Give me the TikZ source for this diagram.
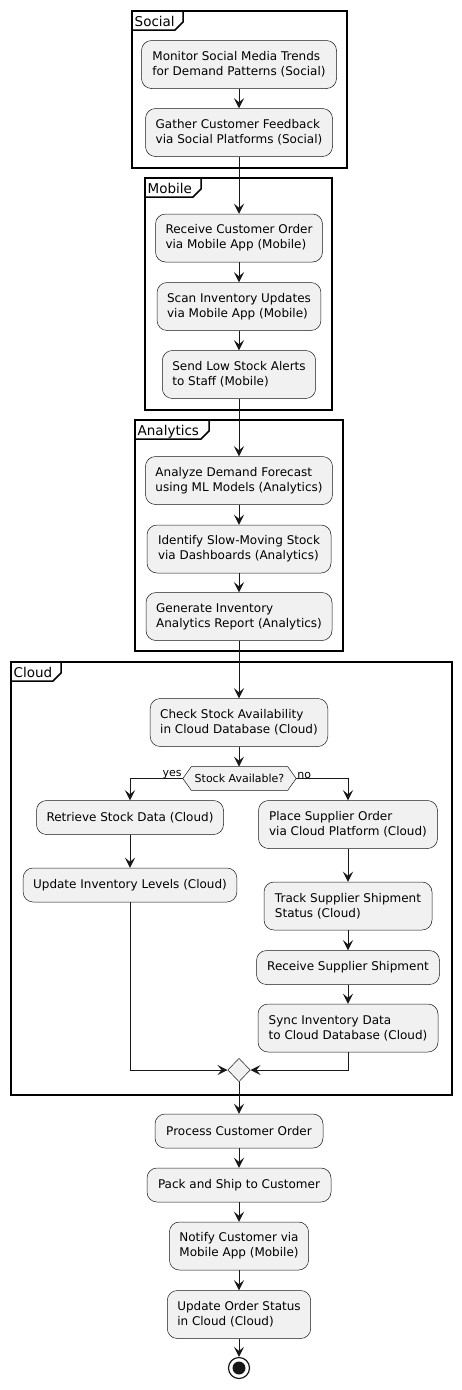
\documentclass[tikz,border=0pt]{standalone}
\usepackage{fontspec}
\setmainfont{DejaVu Sans}
\usetikzlibrary{arrows.meta,shapes.geometric}
\definecolor{actfill}{HTML}{F1F1F1}
\definecolor{actline}{HTML}{181818}
\tikzset{
  act/.style={draw=actline, fill=actfill, line width=0.5pt, rounded corners=10pt,
    align=left, inner xsep=10pt, inner ysep=0pt, font=\fontsize{12}{15}\selectfont,
    minimum height=48pt},
  act1/.style={act, minimum height=34pt},
  flow/.style={draw=actline, line width=1pt, -{Stealth[length=10pt,width=10pt,inset=4pt]}},
  frm/.style={draw=black, line width=1.5pt},
  frmlabel/.style={anchor=base west, inner sep=0pt, font=\fontsize{13.5}{16}\selectfont},
  lbl/.style={inner sep=0pt, font=\fontsize{11}{13}\selectfont},
}
\begin{document}
\begin{tikzpicture}[x=1pt,y=-1pt]
\useasboundingbox (0,0) rectangle (461,1390);
% ---------- frames ----------
\newcommand{\grpframe}[6]{% x1,y1,x2,y2,tabx,label
  \draw[frm] (#1,#2) rectangle (#3,#4);
  \draw[frm, fill=white] (#1,#2) -- (#5,#2) -- (#5,#2+11) -- (#5-8,#2+19) -- (#1,#2+19) -- cycle;
  \node[frmlabel] at (#1+2.5,#2+15) {#6};
}
\grpframe{132}{11}{347}{168}{183}{Social}
\grpframe{145}{178}{332}{410}{201}{Mobile}
\grpframe{135}{420}{343}{651}{209}{Analytics}
\grpframe{11}{662}{452}{1095}{61}{Cloud}
% ---------- Social ----------
\node[act, minimum width=195pt] (s1) at (239,64.5) {Monitor Social Media Trends\\for Demand Patterns (Social)};
\node[act, minimum width=187pt] (s2) at (239,132.5) {Gather Customer Feedback\\via Social Platforms (Social)};
% ---------- Mobile ----------
\node[act, minimum width=166pt] (m1) at (239,238) {Receive Customer Order\\via Mobile App (Mobile)};
\node[act, minimum width=163pt] (m2) at (239,306.5) {Scan Inventory Updates\\via Mobile App (Mobile)};
\node[act, minimum width=153pt] (m3) at (239,374.5) {Send Low Stock Alerts\\to Staff (Mobile)};
% ---------- Analytics ----------
\node[act, minimum width=186pt] (a1) at (239,480.5) {Analyze Demand Forecast\\using ML Models (Analytics)};
\node[act, minimum width=184pt] (a2) at (239,549) {Identify Slow-Moving Stock\\via Dashboards (Analytics)};
\node[act, minimum width=186pt] (a3) at (239,616.5) {Generate Inventory\\Analytics Report (Analytics)};
% ---------- Cloud ----------
\node[act, minimum width=176pt] (c1) at (239,722.5) {Check Stock Availability\\in Cloud Database (Cloud)};
\node[minimum width=96pt, minimum height=23.3pt, inner sep=0pt] (dec) at (239.5,778.5) {};
\coordinate (decL) at ([xshift=-8.5pt]dec.west);
\coordinate (decR) at ([xshift=8.5pt]dec.east);
\draw[draw=actline, fill=actfill, line width=0.5pt] (dec.north west) -- (dec.north east) -- (decR) -- (dec.south east) -- (dec.south west) -- (decL) -- cycle;
\node[lbl] at (dec) {Stock Available?};
\node[act1, minimum width=187pt] (r1) at (130,817.5) {Retrieve Stock Data (Cloud)};
\node[act1, minimum width=213pt] (r2) at (130,885) {Update Inventory Levels (Cloud)};
\node[act, minimum width=179pt] (p1) at (348,824.5) {Place Supplier Order\\via Cloud Platform (Cloud)};
\node[act, minimum width=168pt] (p2) at (348,906) {Track Supplier Shipment\\Status (Cloud)};
\node[act1, minimum width=183pt] (p3) at (348,967.5) {Receive Supplier Shipment};
\node[act, minimum width=180pt] (p4) at (348,1028) {Sync Inventory Data\\to Cloud Database (Cloud)};
\node[diamond, draw=actline, fill=actfill, line width=0.5pt, minimum width=22.5pt, minimum height=23.5pt, inner sep=0pt] (mg) at (239,1070) {};
% ---------- after ----------
\node[act1, minimum width=168pt] (b1) at (239,1131) {Process Customer Order};
\node[act1, minimum width=184pt] (b2) at (239,1185) {Pack and Ship to Customer};
\node[act, minimum width=139pt] (b3) at (239,1246) {Notify Customer via\\Mobile App (Mobile)};
\node[act, minimum width=143pt] (b4) at (239,1314.5) {Update Order Status\\in Cloud (Cloud)};
\node[circle, draw=actline, line width=1.2pt, minimum size=21pt, inner sep=0pt] (end) at (239,1368) {};
\fill[actline] (end.center) circle (6.5pt);
% ---------- connectors ----------
\draw[flow] (s1) -- (s2);
\draw[flow] (s2) -- (m1);
\draw[flow] (m1) -- (m2);
\draw[flow] (m2) -- (m3);
\draw[flow] (m3) -- (a1);
\draw[flow] (a1) -- (a2);
\draw[flow] (a2) -- (a3);
\draw[flow] (a3) -- (c1);
\draw[flow] (c1.south) -- (c1.south |- dec.north);
\draw[flow] (decL) -| (r1.north);
\draw[flow] (decR) -| (p1.north);
\node[lbl, anchor=south east] at ([xshift=-1pt,yshift=-0.5pt]decL) {yes};
\node[lbl, anchor=south west] at ([xshift=1pt,yshift=-0.5pt]decR) {no};
\draw[flow] (r1) -- (r2);
\draw[flow] (p1) -- (p2);
\draw[flow] (p2) -- (p3);
\draw[flow] (p3) -- (p4);
\draw[flow] (r2.south) |- (mg.west);
\draw[flow] (p4.south) |- (mg.east);
\draw[flow] (mg) -- (b1);
\draw[flow] (b1) -- (b2);
\draw[flow] (b2) -- (b3);
\draw[flow] (b3) -- (b4);
\draw[flow] (b4) -- (end);
\end{tikzpicture}
\end{document}
